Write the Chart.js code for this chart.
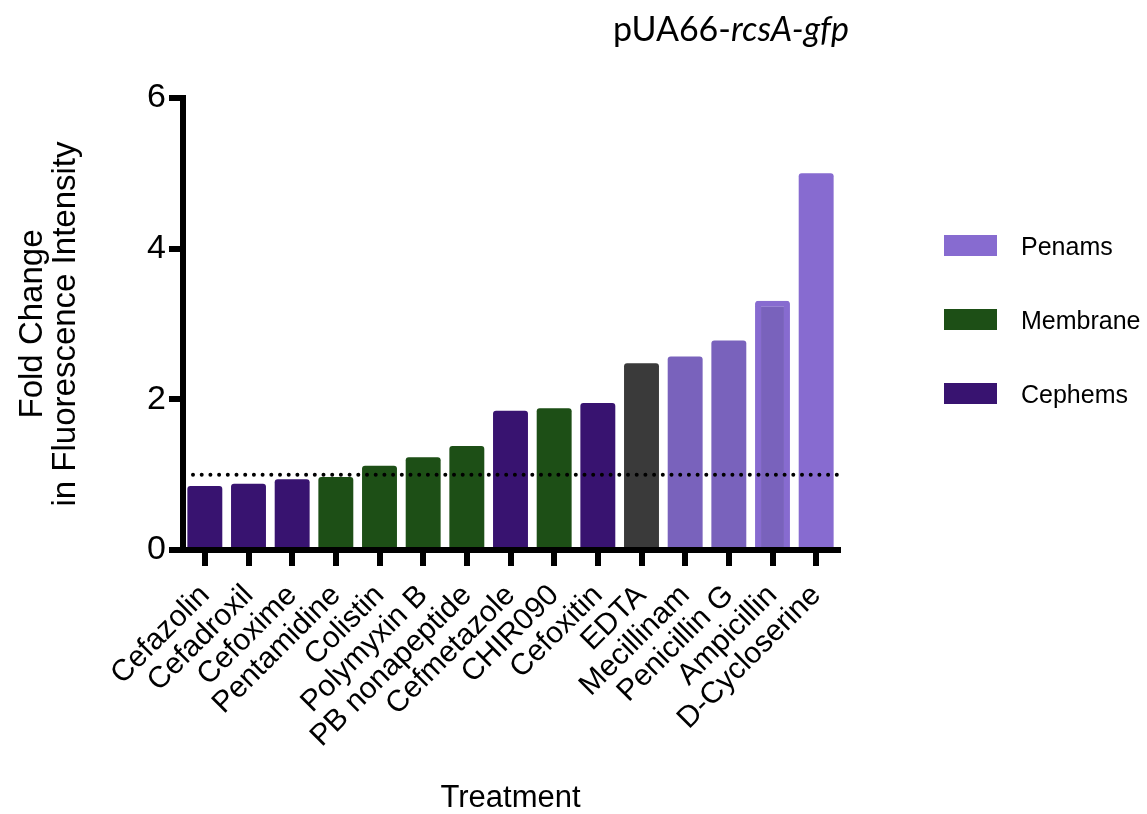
<!DOCTYPE html>
<html>
<head>
<meta charset="utf-8">
<script src="https://cdn.jsdelivr.net/npm/chart.js@4.4.1/dist/chart.umd.min.js"></script>
<style>
  html, body { margin: 0; padding: 0; background: #fff; }
</style>
</head>
<body>
<canvas id="chart" width="1147" height="814"></canvas>
<script>
// data
const treatments = ['Cefazolin', 'Cefadroxil', 'Cefoxime', 'Pentamidine', 'Colistin', 'Polymyxin B',
  'PB nonapeptide', 'Cefmetazole', 'CHIR090', 'Cefoxitin', 'EDTA', 'Mecillinam', 'Penicillin G',
  'Ampicillin', 'D-Cycloserine'];
const foldChange = [0.85, 0.88, 0.94, 0.97, 1.12, 1.23, 1.38, 1.85, 1.88, 1.95, 2.48, 2.57, 2.78, 3.31, 5.00];
const drugClass = ['Cephems', 'Cephems', 'Cephems', 'Membrane', 'Membrane', 'Membrane', 'Membrane',
  'Cephems', 'Membrane', 'Cephems', 'Other', 'Penams', 'Penams', 'Penams', 'Penams'];
const legendClasses = ['Penams', 'Membrane', 'Cephems'];
const yTicks = [0, 2, 4, 6];
const baseline = 1;
const titleMain = 'pUA66-';
const titleGene = 'rcsA-gfp';
const yTitle = ['Fold Change', 'in Fluorescence Intensity'];
const xTitle = 'Treatment';

// styles
const classColors = { Cephems: '#381370', Membrane: '#1d4f16', Other: '#3a3a3a', Penams: '#876bd0' };
const shadeOverride = { 'Mecillinam': '#7962bc', 'Penicillin G': '#7962bc', 'Ampicillin': '#7962bc' };
const borderOverride = { 'Ampicillin': '#876bd0' };
const FONT = '"Liberation Sans", Arial, sans-serif';

const fills = treatments.map((t, i) => shadeOverride[t] || classColors[drugClass[i]]);
const borders = treatments.map((t, i) => borderOverride[t] || fills[i]);
const borderWidths = treatments.map(t => borderOverride[t] ? 6 : 0);

const refLine = {
  id: 'refLine',
  afterDatasetsDraw(chart) {
    const { ctx, chartArea, scales } = chart;
    const py = scales.y.getPixelForValue(baseline);
    ctx.save();
    ctx.strokeStyle = '#000';
    ctx.lineWidth = 4;
    ctx.lineCap = 'round';
    ctx.setLineDash([0, 8.7]);
    ctx.beginPath();
    ctx.moveTo(chartArea.left + 10, py);
    ctx.lineTo(chartArea.right, py);
    ctx.stroke();
    ctx.restore();
  }
};

const sideLegend = {
  id: 'sideLegend',
  afterDraw(chart) {
    const ctx = chart.ctx;
    ctx.save();
    ctx.font = '25px ' + FONT;
    ctx.textBaseline = 'middle';
    legendClasses.forEach((c, i) => {
      const top = 235 + i * 74;
      ctx.fillStyle = classColors[c];
      ctx.fillRect(944, top, 53, 21);
      ctx.fillStyle = '#000';
      ctx.fillText(c, 1021, top + 13);
    });
    ctx.restore();
  }
};

const mixedTitle = {
  id: 'mixedTitle',
  afterDraw(chart) {
    const ctx = chart.ctx;
    ctx.save();
    const normal = '34px Lato, "Open Sans", sans-serif';
    const italic = 'italic 34px Lato, "Open Sans", sans-serif';
    ctx.font = normal;
    const w1 = ctx.measureText(titleMain).width;
    ctx.font = italic;
    const w2 = ctx.measureText(titleGene).width;
    const x = 731 - (w1 + w2) / 2;
    ctx.textBaseline = 'alphabetic';
    ctx.fillStyle = '#000';
    ctx.font = normal;
    ctx.fillText(titleMain, x, 41);
    ctx.font = italic;
    ctx.fillText(titleGene, x + w1, 41);
    ctx.restore();
  }
};

new Chart(document.getElementById('chart').getContext('2d'), {
  type: 'bar',
  data: {
    labels: treatments,
    datasets: [{
      data: foldChange,
      backgroundColor: fills,
      borderColor: borders,
      borderWidth: borderWidths,
      borderRadius: 3,
      borderSkipped: 'start',
      categoryPercentage: 1,
      barPercentage: 0.8
    }]
  },
  options: {
    responsive: false,
    animation: false,
    devicePixelRatio: 1,
    layout: { padding: { top: 98, right: 309, bottom: 0, left: 0 } },
    plugins: { legend: { display: false }, tooltip: { enabled: false } },
    scales: {
      x: {
        offset: true,
        z: 1,
        grid: { offset: false, drawOnChartArea: false, tickLength: 16, lineWidth: 6, color: '#000' },
        border: { display: true, width: 6, color: '#000' },
        ticks: { minRotation: 45, maxRotation: 45, autoSkip: false, color: '#000', padding: 12,
          font: { family: FONT, size: 30 } },
        title: { display: true, text: xTitle, color: '#000', padding: { top: 0, bottom: 0 },
          font: { family: FONT, size: 31, lineHeight: 1 } },
        afterFit(s) { s.height = 264; }
      },
      y: {
        min: 0,
        max: 6,
        z: 1,
        afterBuildTicks(s) { s.ticks = yTicks.map(v => ({ value: v })); },
        grid: { drawOnChartArea: false, tickLength: 14, lineWidth: 6, color: '#000' },
        border: { display: true, width: 6, color: '#000' },
        ticks: { color: '#000', padding: 3, font: { family: FONT, size: 34 } },
        title: { display: true, text: yTitle, color: '#000', padding: { top: 16, bottom: 0 },
          font: { family: FONT, size: 33, lineHeight: 1 } },
        afterFit(s) { s.width = 183; }
      }
    }
  },
  plugins: [refLine, sideLegend, mixedTitle]
});
</script>
</body>
</html>
